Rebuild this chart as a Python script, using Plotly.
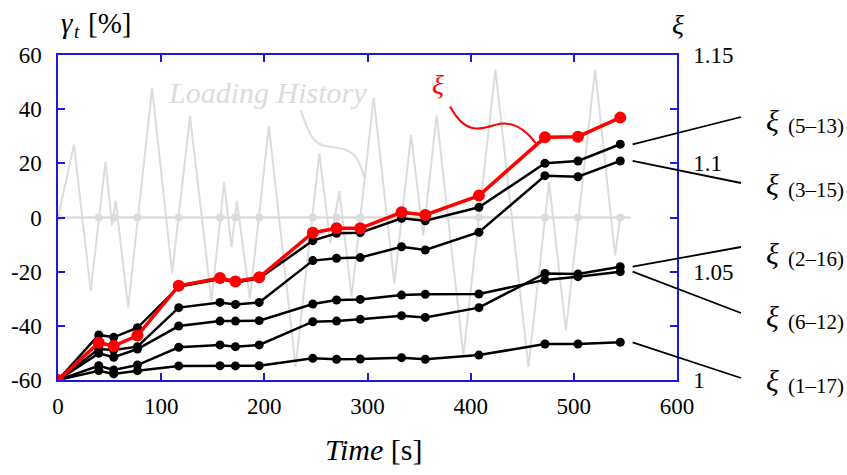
import plotly.graph_objects as go

# Measurement times [s] (also the upward zero crossings of the loading history)
TIME_S = [0, 39.5, 54, 77, 117, 157, 172, 195, 247, 270, 293, 333, 356, 408, 472, 504, 545]

# Overall index xi and the partial indices xi_(i-j)
XI_TOTAL = [1.0, 1.0172, 1.0157, 1.0205, 1.0435, 1.0471, 1.0455, 1.0474, 1.0680,
            1.0700, 1.0700, 1.0774, 1.0762, 1.0851, 1.1120, 1.1123, 1.1211]
XI_5_13 = [1.0, 1.0208, 1.0197, 1.0241, 1.0430, 1.0466, 1.0450, 1.0469, 1.0643,
           1.0677, 1.0680, 1.0746, 1.0735, 1.0797, 1.1000, 1.1011, 1.1088]
XI_3_15 = [1.0, 1.0143, 1.0138, 1.0154, 1.0334, 1.0358, 1.0349, 1.0358, 1.0551,
           1.0562, 1.0565, 1.0615, 1.0600, 1.0682, 1.0943, 1.0938, 1.1011]
XI_2_16 = [1.0, 1.0066, 1.0046, 1.0069, 1.0151, 1.0162, 1.0154, 1.0162, 1.0269,
           1.0272, 1.0280, 1.0297, 1.0289, 1.0334, 1.0492, 1.0489, 1.0523]
XI_6_12 = [1.0, 1.0123, 1.0105, 1.0143, 1.0249, 1.0272, 1.0272, 1.0274, 1.0351,
           1.0369, 1.0372, 1.0392, 1.0396, 1.0397, 1.0462, 1.0477, 1.0500]
XI_1_17 = [1.0, 1.0043, 1.0028, 1.0043, 1.0065, 1.0066, 1.0065, 1.0066, 1.0100,
           1.0096, 1.0097, 1.0103, 1.0096, 1.0115, 1.0166, 1.0166, 1.0174]

PARTIAL_NAMES = ["(5–13)", "(3–15)", "(2–16)", "(6–12)", "(1–17)"]
PARTIAL_SERIES = [XI_5_13, XI_3_15, XI_2_16, XI_6_12, XI_1_17]

# Shear strain loading history gamma_t [%] (turning points)
LOAD_T = [0, 15.5, 31.7, 46, 52.4, 56, 68, 91.2, 110.6, 128, 148.8, 161, 168.2, 173.4,
          186, 204.4, 230.3, 253.3, 264, 272.7, 284.6, 306, 326, 342.2, 354, 367, 393,
          424, 456, 476, 492.3, 520.6, 540, 545]
LOAD_G = [0, 26.9, -27.1, 20.5, -2.9, 6.1, -33.3, 47.8, -20.5, 37.4, -30.8, 13, -10.9, 6.1,
          -30, 33.7, -55.2, 23.6, -9.5, 9.7, -29.3, 44.3, -24.4, 30.4, -6.6, 37.7, -50.9,
          54.6, -55.2, 13.1, -41.7, 54.6, -14, 0]
BASELINE_END = 555

X_TICKS = [0, 100, 200, 300, 400, 500, 600]
Y_TICKS = [-60, -40, -20, 0, 20, 40, 60]
Y_TICKTEXT = ["-60", "-40", "-20", "0", "20", "40", "60"]
Y2_TICKS = [1.0, 1.05, 1.1, 1.15]
Y2_TICKTEXT = ["1", "1.05", "1.1", "1.15"]

SERIF = "Liberation Serif"
BLUE = "#1a1adf"
GRAY = "#dcdcdc"
RED = "#ff0000"

W, H = 847, 475
ML, MR, MT, MB = 58, 170, 55, 95
PW, PH = W - ML - MR, H - MT - MB


def px(x):
    return (x - ML) / PW


def py(y):
    return (H - MB - y) / PH


def text_at(x, y, text, size, color="black", xanchor="left"):
    return dict(xref="paper", yref="paper", x=px(x), y=py(y), xanchor=xanchor,
                yanchor="middle", showarrow=False, text=text,
                font=dict(family=SERIF, size=size, color=color))


fig = go.Figure()

# loading history
fig.add_trace(go.Scatter(x=LOAD_T, y=LOAD_G, mode="lines",
                         line=dict(color=GRAY, width=2), yaxis="y", hoverinfo="skip"))
fig.add_trace(go.Scatter(x=[0, BASELINE_END], y=[0, 0], mode="lines",
                         line=dict(color=GRAY, width=2.5), yaxis="y", hoverinfo="skip"))
fig.add_trace(go.Scatter(x=TIME_S, y=[0] * len(TIME_S), mode="markers",
                         marker=dict(color=GRAY, size=8), yaxis="y", hoverinfo="skip"))

# partial indices
for series in PARTIAL_SERIES[::-1]:
    fig.add_trace(go.Scatter(x=TIME_S, y=series, mode="lines+markers", yaxis="y2",
                             line=dict(color="black", width=2.5),
                             marker=dict(color="black", size=9)))

# overall index
fig.add_trace(go.Scatter(x=TIME_S, y=XI_TOTAL, mode="lines+markers", yaxis="y2",
                         line=dict(color=RED, width=3.5),
                         marker=dict(color=RED, size=12)))

shapes = []
annotations = []

# leader lines and labels for the partial indices
XI_LABEL_Y = [120.5, 184.5, 253, 316.5, 380.5]
LEADER_END_Y = [117, 183, 247, 313, 378]
for name, series, ly, ey in zip(PARTIAL_NAMES, PARTIAL_SERIES, XI_LABEL_Y, LEADER_END_Y):
    x0 = (TIME_S[-1] + 12) / 600
    y0 = (series[-1] - 1.0) / 0.15
    shapes.append(dict(type="line", xref="paper", yref="paper",
                       x0=x0, y0=y0, x1=px(741), y1=py(ey),
                       line=dict(color="black", width=1.8)))
    annotations.append(text_at(764, ly, "<i>ξ</i>", 30))
    annotations.append(text_at(786, ly + 5.5, name, 21))

# curved callouts
shapes.append(dict(type="path", xref="x", yref="y",
                   path="M 235.5,39.6 C 244,29 251,26.5 262,26.2 C 279,25.6 291,25 296.6,14.8",
                   line=dict(color=GRAY, width=2)))
shapes.append(dict(type="path", xref="x", yref="y",
                   path="M 380,41 C 395,30.5 408,32.5 424,34.2 C 440,36 452,33 463,27.5",
                   line=dict(color=RED, width=2)))

annotations += [
    dict(xref="x", yref="y", x=203, y=46, showarrow=False,
         text="<i>Loading History</i>", font=dict(family=SERIF, size=30, color=GRAY)),
    dict(xref="x", yref="y", x=368, y=49, showarrow=False,
         text="<i>ξ</i>", font=dict(family=SERIF, size=28, color=RED)),
    # left axis title: gamma_t [%]
    text_at(59, 23, "<i>γ</i>", 29),
    text_at(71.5, 31.6, "<i>t</i>", 19),
    text_at(86, 23, "[%]", 29),
    # right axis title
    text_at(678, 24.5, "<i>ξ</i>", 28, xanchor="center"),
    # x axis title
    text_at(374, 449, "<i>Time</i> [s]", 30, xanchor="center"),
]

axis_common = dict(showgrid=False, zeroline=False, showline=True, linecolor=BLUE,
                   linewidth=1.5, ticks="inside", ticklen=7, tickcolor=BLUE, tickwidth=1.5,
                   tickfont=dict(family=SERIF, size=23, color="black"))

fig.update_layout(
    width=W, height=H,
    margin=dict(l=ML, r=MR, t=MT, b=MB),
    paper_bgcolor="white", plot_bgcolor="white",
    showlegend=False,
    font=dict(family=SERIF),
    xaxis=dict(range=[0, 600], tickvals=X_TICKS, mirror="ticks", ticklabelstandoff=5,
               **axis_common),
    yaxis=dict(range=[-60, 60], tickvals=Y_TICKS, ticktext=Y_TICKTEXT,
               ticklabelstandoff=10, **axis_common),
    yaxis2=dict(range=[1.0, 1.15], tickvals=Y2_TICKS, ticktext=Y2_TICKTEXT,
                overlaying="y", side="right", ticklabelstandoff=10,
                minor=dict(dtick=0.025, ticks="inside", ticklen=7, tickcolor=BLUE,
                           tickwidth=1.5),
                **axis_common),
    shapes=shapes,
    annotations=annotations,
)

fig.write_html("out.html")
